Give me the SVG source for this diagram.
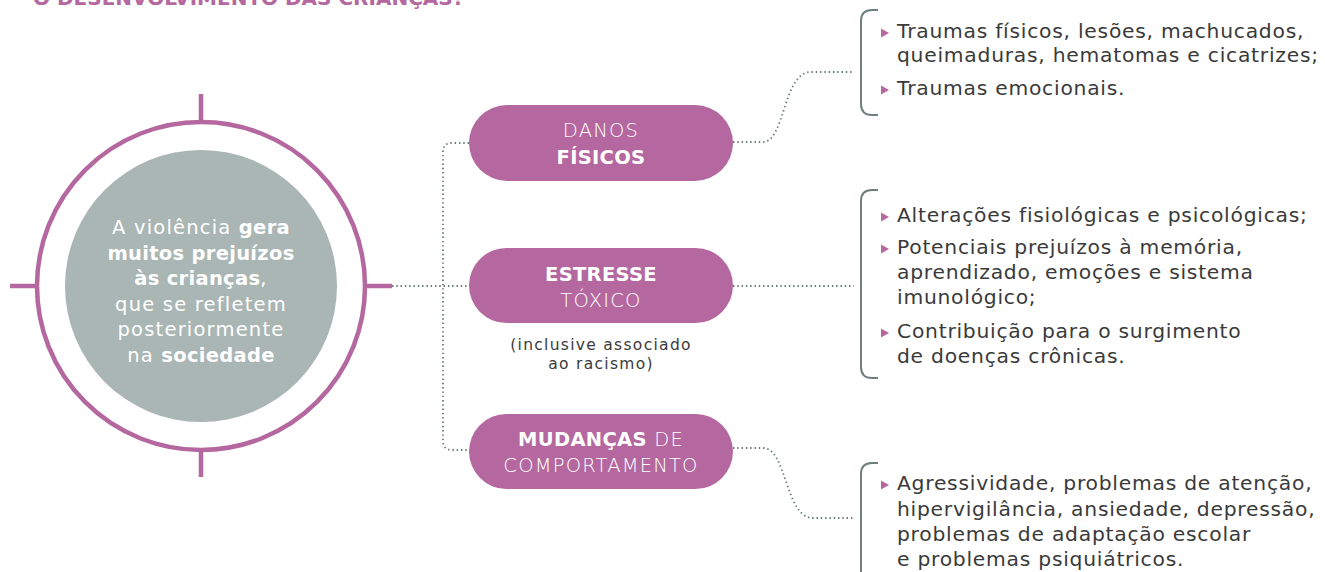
<svg xmlns="http://www.w3.org/2000/svg" width="1325" height="572" viewBox="0 0 1325 572">
<style>
.ring{fill:none;stroke:#b4689f;stroke-width:4.5}
.tick{stroke:#b4689f;stroke-width:4.5}
.pill{fill:#b4689f}
.pt{font-family:"DejaVu Sans","Liberation Sans",sans-serif;font-size:19.5px;fill:#fff;text-anchor:middle;font-weight:200;letter-spacing:1.2px}
.pb{font-weight:700;letter-spacing:0.3px}
.ct{font-family:"DejaVu Sans","Liberation Sans",sans-serif;font-size:19.5px;fill:#fff;text-anchor:middle;font-weight:400;letter-spacing:1.2px}
.cb{font-weight:700;letter-spacing:0.3px}
.li{font-family:"DejaVu Sans","Liberation Sans",sans-serif;font-size:20.3px;fill:#3a3a3a;letter-spacing:0.75px}
.note{font-family:"DejaVu Sans","Liberation Sans",sans-serif;font-size:15.5px;fill:#3a3a3a;text-anchor:middle;letter-spacing:1.3px}
.dot{fill:none;stroke:#667977;stroke-width:1.8;stroke-dasharray:1.4 2.9}
.br{fill:none;stroke:#6e7f7d;stroke-width:2}
.bul{fill:#b4689f}
.title{font-family:"DejaVu Sans","Liberation Sans",sans-serif;font-size:20px;font-weight:700;fill:#b4689f}
</style>
<text class="title" x="33" y="5">O DESENVOLVIMENTO DAS CRIANÇAS?</text>

<g id="connectors">
  <path class="dot" d="M392 286 H469"/>
  <path class="dot" d="M469 143 H452 Q443 143 443 152 V441 Q443 450 452 450 H469"/>
  <path class="dot" d="M733 142 H763 C785 142 783 72 811 72 H854"/>
  <path class="dot" d="M733 286 H854"/>
  <path class="dot" d="M733 448 H763 C787 448 785 518 813 518 H854"/>
</g>

<g id="center">
  <line class="tick" x1="201" y1="94" x2="201" y2="124"/>
  <line class="tick" x1="201" y1="449" x2="201" y2="477"/>
  <line class="tick" x1="10" y1="286" x2="38" y2="286"/>
  <line class="tick" x1="364" y1="286" x2="392" y2="286"/>
  <circle class="ring" cx="201" cy="286" r="164"/>
  <circle cx="201" cy="286" r="136" fill="#a9b6b4"/>
  <text class="ct" x="201" y="234">A violência <tspan class="cb">gera</tspan></text>
  <text class="ct cb" x="201" y="260">muitos prejuízos</text>
  <text class="ct" x="201" y="285"><tspan class="cb">às crianças</tspan>,</text>
  <text class="ct" x="201" y="311">que se refletem</text>
  <text class="ct" x="201" y="336">posteriormente</text>
  <text class="ct" x="201" y="362">na <tspan class="cb">sociedade</tspan></text>
</g>

<g id="danos">
  <rect class="pill" x="469" y="105" width="264" height="76" rx="38"/>
  <text class="pt" x="601" y="137">DANOS</text>
  <text class="pt pb" x="601" y="164">FÍSICOS</text>
</g>

<g id="estresse">
  <rect class="pill" x="469" y="248" width="264" height="75" rx="37.5"/>
  <text class="pt pb" x="601" y="281">ESTRESSE</text>
  <text class="pt" x="601" y="307">TÓXICO</text>
  <text class="note" x="601" y="350">(inclusive associado</text>
  <text class="note" x="601" y="369">ao racismo)</text>
</g>

<g id="mudancas">
  <rect class="pill" x="469" y="414" width="264" height="75" rx="37.5"/>
  <text class="pt" x="601" y="446"><tspan class="pb">MUDANÇAS</tspan> DE</text>
  <text class="pt" x="601" y="472">COMPORTAMENTO</text>
</g>

<g id="list-danos">
  <path class="br" d="M878 10 H872 Q861 10 861 21 V104 Q861 115 872 115 H878"/>
  <path class="bul" d="M881 28.5 L889 33 L881 37.5 Z"/>
  <text class="li" x="897" y="38">Traumas físicos, lesões, machucados,</text>
  <text class="li" x="897" y="62">queimaduras, hematomas e cicatrizes;</text>
  <path class="bul" d="M881 85.5 L889 90 L881 94.5 Z"/>
  <text class="li" x="897" y="95">Traumas emocionais.</text>
</g>

<g id="list-estresse">
  <path class="br" d="M878 190 H872 Q861 190 861 201 V367 Q861 378 872 378 H878"/>
  <path class="bul" d="M881 212.5 L889 217 L881 221.5 Z"/>
  <text class="li" x="897" y="222">Alterações fisiológicas e psicológicas;</text>
  <path class="bul" d="M881 244.5 L889 249 L881 253.5 Z"/>
  <text class="li" x="897" y="254">Potenciais prejuízos à memória,</text>
  <text class="li" x="897" y="279">aprendizado, emoções e sistema</text>
  <text class="li" x="897" y="304">imunológico;</text>
  <path class="bul" d="M881 328.5 L889 333 L881 337.5 Z"/>
  <text class="li" x="897" y="338">Contribuição para o surgimento</text>
  <text class="li" x="897" y="363">de doenças crônicas.</text>
</g>

<g id="list-mudancas">
  <path class="br" d="M878 463 H872 Q861 463 861 474 V580"/>
  <path class="bul" d="M881 480.5 L889 485 L881 489.5 Z"/>
  <text class="li" x="897" y="490">Agressividade, problemas de atenção,</text>
  <text class="li" x="897" y="516">hipervigilância, ansiedade, depressão,</text>
  <text class="li" x="897" y="541">problemas de adaptação escolar</text>
  <text class="li" x="897" y="566">e problemas psiquiátricos.</text>
</g>
</svg>
